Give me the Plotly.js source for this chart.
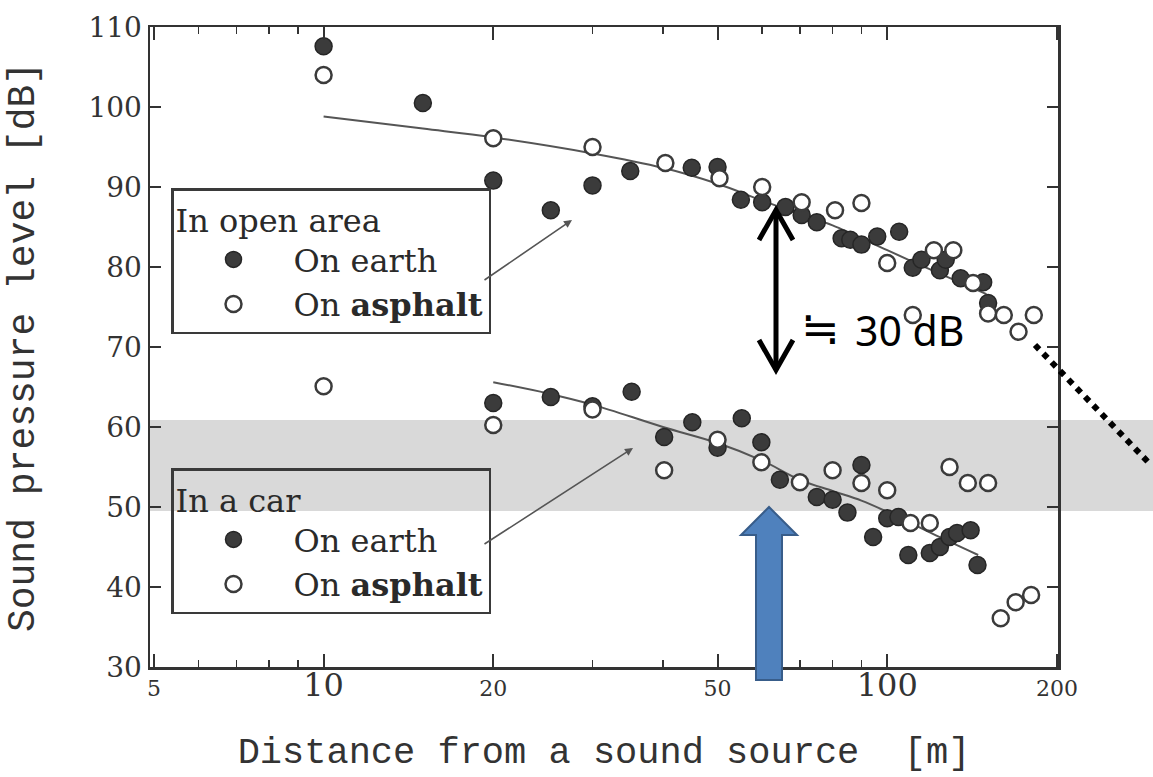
<!DOCTYPE html>
<html><head><meta charset="utf-8">
<script src="https://cdn.plot.ly/plotly-3.0.1.min.js"></script>
<style>html,body{margin:0;padding:0;background:#fff}#chart{width:1153px;height:777px}</style>
</head><body><div id="chart"></div>
<script>
// ---- tick labels ----
const xTickVals = [5, 10, 20, 50, 100, 200];
const xTickLabels = ['5', '10', '20', '50', '100', '200'];
const xMinorTicks = [6, 7, 8, 9, 30, 40, 60, 70, 80, 90];
const yTickVals = [30, 40, 50, 60, 70, 80, 90, 100, 110];

// ---- In open area ----
const openEarthX = [10, 15, 20, 25.3, 30, 35, 45, 50, 55, 60, 66, 70.5, 75, 83, 86, 90, 96, 105, 111, 115, 124, 127, 135, 148, 151];
const openEarthY = [107.6, 100.5, 90.8, 87.1, 90.2, 92, 92.4, 92.5, 88.4, 88.1, 87.5, 86.5, 85.6, 83.6, 83.4, 82.8, 83.8, 84.4, 79.9, 80.9, 79.6, 80.9, 78.6, 78.1, 75.5];
const openAsphaltX = [10, 20, 30, 40.4, 50.4, 60, 70.5, 80.8, 90, 100, 111, 121, 131, 142, 151, 161, 171, 182];
const openAsphaltY = [104, 96.1, 95, 93, 91.1, 90, 88.1, 87.1, 88, 80.5, 74, 82.1, 82.1, 78, 74.2, 74, 71.9, 74];
const openFitX = [10, 15, 20, 30, 40, 50, 60, 70, 80, 100, 120, 150];
const openFitY = [98.8, 97.3, 96.2, 94.2, 92.4, 90.4, 88.3, 86.6, 85.2, 82.1, 79.6, 76.6];

// ---- In a car ----
const carEarthX = [20, 25.3, 30, 35.2, 40.2, 45.1, 50, 55.2, 59.8, 64.5, 75, 80, 85, 90, 94.4, 100, 104.7, 109, 119, 124, 129, 133, 140.6, 144.6];
const carEarthY = [63, 63.75, 62.6, 64.4, 58.75, 60.6, 57.4, 61.1, 58.1, 53.4, 51.25, 50.9, 49.3, 55.25, 46.25, 48.6, 48.75, 44, 44.25, 45, 46.25, 46.75, 47.1, 42.75];
const carAsphaltX = [10, 20, 30, 40.2, 50, 59.8, 70, 80, 90, 100, 110, 119, 129, 139, 151, 159, 169, 180];
const carAsphaltY = [65.1, 60.25, 62.2, 54.6, 58.4, 55.6, 53.1, 54.6, 53, 52.1, 48, 48, 55, 53, 53, 36.1, 38.1, 39];
const carFitX = [20, 25, 30, 40, 50, 60, 70, 80, 90, 100, 120, 145];
const carFitY = [65.6, 64.2, 62.8, 60, 58, 55.8, 53.4, 52, 50.8, 49.4, 46.7, 44];

// ---- styles ----
const ink = '#333333';
const earthMarker = {symbol: 'circle', size: 17, color: '#3b3b3b', line: {color: '#262626', width: 1.5}};
const asphaltMarker = {symbol: 'circle', size: 16, color: '#ffffff', line: {color: '#3b3b3b', width: 2.5}};
const fitLine = {color: '#555555', width: 2, shape: 'spline'};

const traces = [
  {x: openFitX, y: openFitY, mode: 'lines', line: fitLine, showlegend: false, hoverinfo: 'skip'},
  {x: carFitX, y: carFitY, mode: 'lines', line: fitLine, showlegend: false, hoverinfo: 'skip'},
  {x: openEarthX, y: openEarthY, mode: 'markers', name: 'On earth', marker: earthMarker, legend: 'legend'},
  {x: openAsphaltX, y: openAsphaltY, mode: 'markers', name: 'On <b>asphalt</b>', marker: asphaltMarker, legend: 'legend'},
  {x: carEarthX, y: carEarthY, mode: 'markers', name: 'On earth', marker: earthMarker, legend: 'legend2'},
  {x: carAsphaltX, y: carAsphaltY, mode: 'markers', name: 'On <b>asphalt</b>', marker: asphaltMarker, legend: 'legend2'}
];

// pixel -> paper helpers for the overlay decorations
const L = 150, R = 1058, T = 27, B = 667;
const px = p => (p - L) / (R - L);
const py = p => (B - p) / (B - T);
const pt = (a, b) => px(a).toFixed(5) + ',' + py(b).toFixed(5);

const legendFont = {family: 'DejaVu Serif', size: 32, color: '#2a2a2a'};
const legendBase = {
  xanchor: 'left', yanchor: 'top', bgcolor: 'rgba(0,0,0,0)', bordercolor: '#3a3a3a', borderwidth: 2.5,
  font: legendFont, itemwidth: 110, tracegroupgap: 0
};

const layout = {
  width: 1153, height: 777,
  margin: {l: L, r: 1153 - R, t: T, b: 777 - B},
  paper_bgcolor: '#ffffff', plot_bgcolor: 'rgba(0,0,0,0)',
  showlegend: true,
  xaxis: {
    type: 'log', range: [0.692, 2.303], automargin: false,
    tickmode: 'array', tickvals: xTickVals,
    ticktext: xTickLabels.map(t => (t === '10' || t === '100') ? '<span style="font-size:32px">' + t + '</span>' : t),
    ticks: 'inside', ticklen: 13, tickwidth: 2, tickcolor: ink,
    minor: {tickmode: 'array', tickvals: xMinorTicks, ticks: 'inside', ticklen: 7, tickwidth: 1.5, tickcolor: ink, showgrid: false},
    showline: true, linecolor: ink, linewidth: 2.5, mirror: 'ticks',
    showgrid: false, zeroline: false,
    tickfont: {family: 'DejaVu Serif', size: 22, color: ink},
    title: {text: 'Distance from a sound source\u00a0\u00a0[m]', font: {family: 'Liberation Mono', size: 37, color: ink}, standoff: 34}
  },
  yaxis: {
    range: [30, 110], automargin: false,
    tickmode: 'array', tickvals: yTickVals,
    ticks: 'inside', ticklen: 11, tickwidth: 2, tickcolor: ink,
    showline: true, linecolor: ink, linewidth: 2.5, mirror: 'ticks',
    showgrid: false, zeroline: false,
    tickfont: {family: 'DejaVu Serif', size: 28, color: ink},
    title: {text: 'Sound pressure level [dB]\u00a0\u00a0', font: {family: 'Liberation Mono', size: 38, color: ink}, standoff: 42}
  },
  legend: Object.assign({}, legendBase, {x: px(171), y: py(188), title: {text: 'In open area', font: legendFont}}),
  legend2: Object.assign({}, legendBase, {x: px(171), y: py(468), title: {text: 'In a car', font: legendFont}}),
  shapes: [
    {type: 'rect', xref: 'paper', yref: 'paper', x0: px(150), x1: px(1153), y0: py(511), y1: py(420), fillcolor: '#d9d9d9', line: {width: 0}, layer: 'below'},
    {type: 'line', xref: 'paper', yref: 'paper', x0: px(1035), y0: py(345), x1: px(1150), y1: py(464), line: {color: '#000', width: 6, dash: 'dot'}},
    {type: 'line', xref: 'paper', yref: 'paper', x0: px(776), y0: py(212), x1: px(776), y1: py(368), line: {color: '#000', width: 5}},
    {type: 'path', xref: 'paper', yref: 'paper', path: 'M' + pt(759, 240) + 'L' + pt(776, 210) + 'L' + pt(793, 240), line: {color: '#000', width: 5}},
    {type: 'path', xref: 'paper', yref: 'paper', path: 'M' + pt(759, 340) + 'L' + pt(776, 370) + 'L' + pt(793, 340), line: {color: '#000', width: 5}},
    {type: 'path', xref: 'paper', yref: 'paper',
      path: 'M' + pt(756, 680) + 'L' + pt(756, 535) + 'L' + pt(741, 535) + 'L' + pt(769, 507) + 'L' + pt(797, 535) + 'L' + pt(782, 535) + 'L' + pt(782, 680) + 'Z',
      fillcolor: '#4f81bd', line: {color: '#385d8a', width: 2}}
  ],
  annotations: [
    {xref: 'paper', yref: 'paper', x: px(572), y: py(220), ax: -89, ay: 61, text: '', showarrow: true, arrowhead: 2, arrowsize: 1, arrowwidth: 1.6, arrowcolor: '#555'},
    {xref: 'paper', yref: 'paper', x: px(633), y: py(448), ax: -150, ay: 97, text: '', showarrow: true, arrowhead: 2, arrowsize: 1, arrowwidth: 1.6, arrowcolor: '#555'},
    {xref: 'paper', yref: 'paper', x: px(799), y: py(328), xanchor: 'left', yanchor: 'middle', showarrow: false,
      text: '≒', font: {family: 'DejaVu Sans', size: 46, color: '#000'}},
    {xref: 'paper', yref: 'paper', x: px(853), y: py(330), xanchor: 'left', yanchor: 'middle', showarrow: false,
      text: '30 dB', font: {family: 'Noto Sans', size: 41, color: '#000'}}
  ]
};

Plotly.newPlot('chart', traces, layout, {displayModeBar: false, staticPlot: true});
</script>
</body></html>
